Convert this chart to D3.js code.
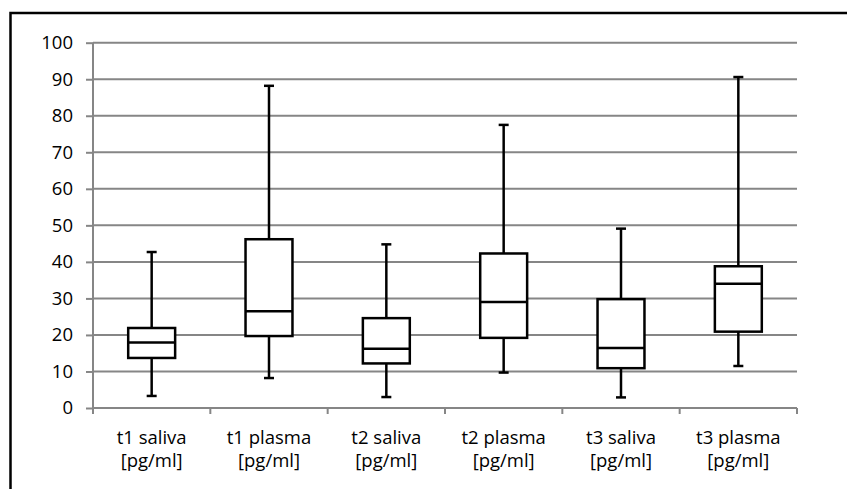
<!DOCTYPE html>
<html>
<head>
<meta charset="utf-8">
<script src="https://cdn.jsdelivr.net/npm/d3@7"></script>
<style>
  html, body { margin: 0; padding: 0; background: #fff; overflow: hidden; }
  svg { display: block; }
  text { font-family: "Open Sans", "Liberation Sans", sans-serif; fill: #000; }
</style>
</head>
<body>
<svg id="chart" width="847" height="489"></svg>
<script>
// Data
const categories = ["t1 saliva", "t1 plasma", "t2 saliva", "t2 plasma", "t3 saliva", "t3 plasma"];
const unitLabel = "[pg/ml]";
const whiskerLow  = [3.3, 8.2, 3.0, 9.7, 2.9, 11.5];
const q1          = [13.7, 19.7, 12.2, 19.2, 10.9, 20.9];
const median      = [17.9, 26.5, 16.2, 29.0, 16.4, 34.0];
const q3          = [21.9, 46.2, 24.6, 42.3, 29.8, 38.8];
const whiskerHigh = [42.7, 88.2, 44.8, 77.5, 49.1, 90.6];
const yTicks = [0, 10, 20, 30, 40, 50, 60, 70, 80, 90, 100];

const svg = d3.select("#chart");
const W = 847, H = 489;
const margin = { left: 93, right: W - 797, top: 42.7, bottom: H - 408 };
const FS = 18.5;

// Outer frame (clipped at right/bottom as in reference)
svg.append("path")
  .attr("d", `M10.5,${H + 5} L10.5,13 L${W + 5},13`)
  .attr("fill", "none").attr("stroke", "#000").attr("stroke-width", 2.5);

const x = d3.scaleBand().domain(categories).range([margin.left, W - margin.right]).paddingInner(0).paddingOuter(0);
const y = d3.scaleLinear().domain([0, 100]).range([H - margin.bottom, margin.top]);

// Gridlines
svg.append("g").selectAll("line").data(yTicks.filter(d => d > 0)).join("line")
  .attr("x1", margin.left).attr("x2", W - margin.right)
  .attr("y1", d => y(d)).attr("y2", d => y(d))
  .attr("stroke", "#868686").attr("stroke-width", 2);

// Y axis
const yAxis = svg.append("g").attr("transform", `translate(${margin.left},0)`)
  .call(d3.axisLeft(y).tickValues(yTicks).tickSize(7).tickPadding(13));
yAxis.select(".domain").attr("stroke", "#868686").attr("stroke-width", 2)
  .attr("d", `M0,${y(100)}V${y(0) + 6}`);
yAxis.selectAll(".tick line").attr("stroke", "#868686").attr("stroke-width", 2);
yAxis.selectAll(".tick text").attr("font-size", FS).attr("font-family", "'Open Sans', sans-serif").attr("fill", "#000");

// X axis line + ticks at band boundaries
const xg = svg.append("g");
xg.append("line")
  .attr("x1", margin.left).attr("x2", W - margin.right)
  .attr("y1", y(0)).attr("y2", y(0))
  .attr("stroke", "#868686").attr("stroke-width", 2);
const boundaries = categories.map(c => x(c)).concat([x(categories[categories.length - 1]) + x.bandwidth()]);
xg.selectAll("line.tk").data(boundaries).join("line").attr("class", "tk")
  .attr("x1", d => d).attr("x2", d => d)
  .attr("y1", y(0)).attr("y2", y(0) + 6)
  .attr("stroke", "#868686").attr("stroke-width", 2);

// X labels
const lbl = xg.selectAll("text.cat").data(categories).join("text").attr("class", "cat")
  .attr("text-anchor", "middle").attr("font-size", FS);
lbl.append("tspan").attr("x", d => x(d) + x.bandwidth() / 2).attr("y", 443.5).text(d => d);
lbl.append("tspan").attr("x", d => x(d) + x.bandwidth() / 2).attr("y", 467).text(unitLabel);

// Box plots
const boxW = x.bandwidth() * 0.4;
const capW = 10;
const g = svg.append("g").attr("stroke", "#000").attr("stroke-width", 2.5).attr("fill", "#fff");
categories.forEach((c, i) => {
  const cx = x(c) + x.bandwidth() / 2;
  // whiskers
  g.append("line").attr("x1", cx).attr("x2", cx).attr("y1", y(q3[i])).attr("y2", y(whiskerHigh[i]));
  g.append("line").attr("x1", cx).attr("x2", cx).attr("y1", y(q1[i])).attr("y2", y(whiskerLow[i]));
  g.append("line").attr("x1", cx - capW / 2).attr("x2", cx + capW / 2).attr("y1", y(whiskerHigh[i])).attr("y2", y(whiskerHigh[i]));
  g.append("line").attr("x1", cx - capW / 2).attr("x2", cx + capW / 2).attr("y1", y(whiskerLow[i])).attr("y2", y(whiskerLow[i]));
  // box
  g.append("rect").attr("x", cx - boxW / 2).attr("width", boxW)
    .attr("y", y(q3[i])).attr("height", y(q1[i]) - y(q3[i]));
  g.append("line").attr("x1", cx - boxW / 2).attr("x2", cx + boxW / 2).attr("y1", y(median[i])).attr("y2", y(median[i]));
});
</script>
</body>
</html>
